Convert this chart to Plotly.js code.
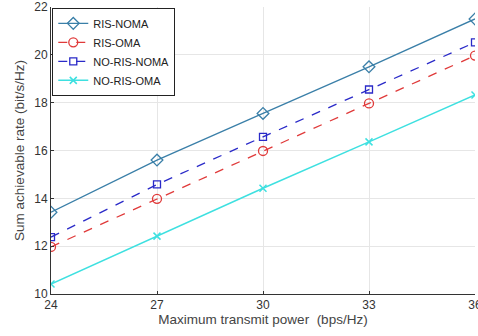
<!DOCTYPE html>
<html><head><meta charset="utf-8">
<script src="https://cdn.plot.ly/plotly-3.0.1.min.js"></script>
<style>html,body{margin:0;padding:0;background:#fff}#c{width:478px;height:336px}</style>
</head><body><div id="c"></div>
<script>
const power = [24, 27, 30, 33, 36];
const risNoma = [13.42, 15.6, 17.55, 19.5, 21.5];
const risOma = [11.97, 13.98, 15.98, 17.97, 19.97];
const noRisNoma = [12.38, 14.58, 16.57, 18.55, 20.52];
const noRisOma = [10.42, 12.42, 14.42, 16.36, 18.32];
const xTicks = [24, 27, 30, 33, 36];
const yTicks = [10, 12, 14, 16, 18, 20, 22];

const traces = [
  {x: power, y: risNoma, name: 'RIS-NOMA', mode: 'lines+markers',
   line: {color: '#3a7fa8', width: 1.3}, marker: {symbol: 'diamond-open', size: 9, color: '#3a7fa8', line: {width: 1.3}}},
  {x: power, y: risOma, name: 'RIS-OMA', mode: 'lines+markers',
   line: {color: '#e03a3a', width: 1.3, dash: 'dash'}, marker: {symbol: 'circle-open', size: 9, color: '#e03a3a', line: {width: 1.3}}},
  {x: power, y: noRisNoma, name: 'NO-RIS-NOMA', mode: 'lines+markers',
   line: {color: '#2a2ac8', width: 1.3, dash: 'dash'}, marker: {symbol: 'square-open', size: 7, color: '#2a2ac8', line: {width: 1.3}}},
  {x: power, y: noRisOma, name: 'NO-RIS-OMA', mode: 'lines+markers',
   line: {color: '#3ee0e0', width: 1.5}, marker: {symbol: 'x-thin-open', size: 7, color: '#3ee0e0', line: {width: 1.5, color: '#3ee0e0'}}}
];

const layout = {
  width: 478, height: 336,
  margin: {l: 51, r: 3, t: 7, b: 42},
  paper_bgcolor: '#fff', plot_bgcolor: '#fff',
  font: {family: 'Liberation Sans, Arial, sans-serif', size: 11, color: '#333'},
  xaxis: {range: [24, 36], tickvals: xTicks, ticktext: xTicks.map(String),
    showgrid: true, gridcolor: '#e6e6e6', zeroline: false, ticklabeloverflow: 'allow',
    showline: true, linecolor: '#333', linewidth: 1, ticks: 'inside', ticklen: 3, tickcolor: '#333',
    title: {text: 'Maximum transmit power  (bps/Hz)', font: {size: 13.5, color: '#444'}, standoff: 2},
    tickfont: {size: 12, color: '#333'}},
  yaxis: {range: [10, 22], tickvals: yTicks, ticktext: yTicks.map(String),
    showgrid: true, gridcolor: '#e6e6e6', zeroline: false,
    showline: true, linecolor: '#333', linewidth: 1, ticks: 'inside', ticklen: 3, tickcolor: '#333',
    title: {text: 'Sum achievable rate (bit/s/Hz)', font: {size: 13.5, color: '#444'}, standoff: 6},
    tickfont: {size: 12, color: '#333'}},
  legend: {x: 0.003, y: 0.997, xanchor: 'left', yanchor: 'top',
    bgcolor: '#fff', bordercolor: '#222', borderwidth: 1,
    font: {size: 11, color: '#222'}, tracegroupgap: 0, itemwidth: 30},
  showlegend: true
};
Plotly.newPlot('c', traces, layout, {displayModeBar: false, staticPlot: true});
</script></body></html>
